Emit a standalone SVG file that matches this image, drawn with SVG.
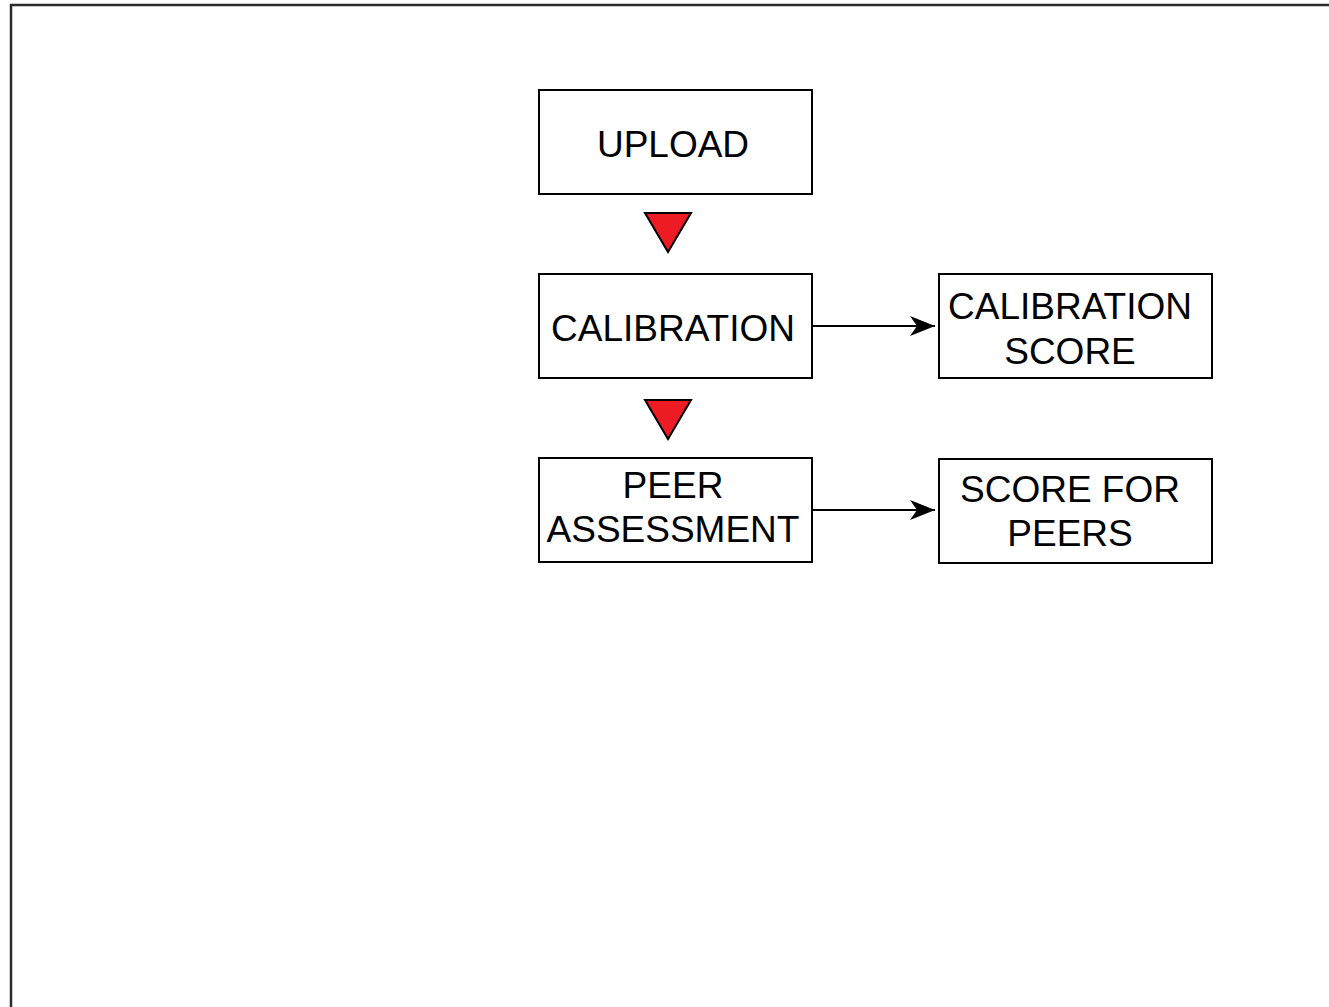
<svg xmlns="http://www.w3.org/2000/svg" width="1329" height="1007" viewBox="0 0 1329 1007">
  <style>
    .box { fill: #ffffff; stroke: #000000; stroke-width: 2; }
    .lbl { font-family: "Liberation Sans", Arial, Helvetica, sans-serif; font-size: 37px; fill: #000000; text-anchor: middle; }
    .step { fill: #ed1c24; stroke: #000000; stroke-width: 2; stroke-linejoin: miter; }
    .link { fill: none; stroke: #000000; stroke-width: 2; }
  </style>
  <defs>
    <marker id="arrow" markerWidth="26" markerHeight="20" refX="25" refY="10" orient="auto" markerUnits="userSpaceOnUse">
      <path d="M0,0 L25,10 L0,20 L7,10 Z" fill="#000000"/>
    </marker>
  </defs>

  <rect width="1329" height="1007" fill="#ffffff"/>
  <!-- page frame -->
  <path d="M11,1007 V5 H1329" fill="none" stroke="#2b2b2b" stroke-width="2.5"/>

  <g id="upload">
    <rect class="box" x="539" y="90" width="273" height="104"/>
    <text class="lbl" x="673" y="157">UPLOAD</text>
  </g>

  <g id="calibration">
    <rect class="box" x="539" y="274" width="273" height="104"/>
    <text class="lbl" x="673" y="341">CALIBRATION</text>
  </g>

  <g id="calibration-score">
    <rect class="box" x="939" y="274" width="273" height="104"/>
    <text class="lbl" x="1070" y="319">CALIBRATION</text>
    <text class="lbl" x="1070" y="364">SCORE</text>
  </g>

  <g id="peer-assessment">
    <rect class="box" x="539" y="458" width="273" height="104"/>
    <text class="lbl" x="673" y="498">PEER</text>
    <text class="lbl" x="673" y="542">ASSESSMENT</text>
  </g>

  <g id="score-for-peers">
    <rect class="box" x="939" y="459" width="273" height="104"/>
    <text class="lbl" x="1070" y="502">SCORE FOR</text>
    <text class="lbl" x="1070" y="546">PEERS</text>
  </g>

  <g id="connectors">
    <polygon class="step" points="645,213 691,213 668,252"/>
    <polygon class="step" points="645,400 691,400 668,439"/>
    <line class="link" x1="813" y1="326" x2="935" y2="326" marker-end="url(#arrow)"/>
    <line class="link" x1="813" y1="510" x2="935" y2="510" marker-end="url(#arrow)"/>
  </g>
</svg>
